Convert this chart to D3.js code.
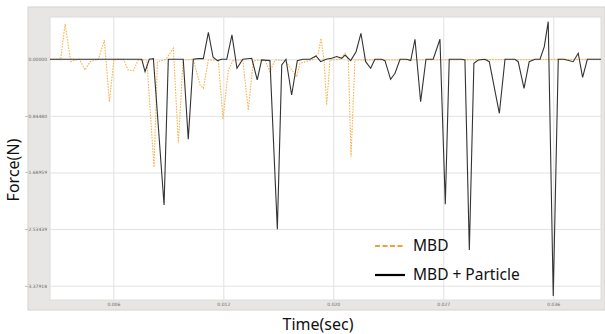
<!DOCTYPE html>
<html>
<head>
<meta charset="utf-8">
<script src="https://cdn.jsdelivr.net/npm/d3@7"></script>
<style>
  body { margin: 0; background: #fff; }
  svg { display: block; }
</style>
</head>
<body>
<svg id="chart" width="605" height="334"></svg>
<script>
// time (sec) and force (N)
const timeMBD = [0.00197, 0.00265, 0.00293, 0.00329, 0.00345, 0.00384, 0.00420, 0.00452, 0.00505, 0.00543,
  0.00575, 0.00604, 0.00664, 0.00695, 0.00727, 0.00759, 0.00813, 0.00859, 0.00881, 0.00935,
  0.00982, 0.01014, 0.01044, 0.01109, 0.01152, 0.01173, 0.01205, 0.01268, 0.01298, 0.01332,
  0.01364, 0.01424, 0.01459, 0.01491, 0.01565, 0.01597, 0.01629, 0.01693, 0.01767, 0.01788,
  0.01873, 0.01905, 0.01922, 0.01941, 0.01958, 0.01979, 0.02043, 0.02075, 0.02096, 0.02113,
  0.02138, 0.03704];
const forceMBD = [0, 0, 0.527, -0.036, -0.02, 0, -0.16, -0.036, 0, 0.288,
  -0.633, 0, 0, -0.16, -0.17, -0.01, -0.01, -1.612, -0.04, 0,
  0.164, -1.254, -0.01, 0, -0.384, -0.433, -0.01, -0.01, -0.891, -0.16,
  -0.01, -0.01, -0.757, -0.02, -0.01, -0.185, -0.01, -0.02, -0.26, -0.06,
  0, 0.09, 0.313, -0.01, -0.682, -0.01, 0, 0.09, -0.01, -1.454,
  -0.01, 0];

const timeParticle = [0.00197, 0.00781, 0.00802, 0.00829, 0.00855, 0.00923, 0.00950, 0.01045, 0.01077, 0.01109,
  0.01141, 0.01173, 0.01205, 0.01235, 0.01263, 0.01290, 0.01322, 0.01355, 0.01387, 0.01424,
  0.01481, 0.01516, 0.01544, 0.01597, 0.01644, 0.01672, 0.01699, 0.01735, 0.01771, 0.01805,
  0.01852, 0.01890, 0.01920, 0.01954, 0.01990, 0.02022, 0.02054, 0.02075, 0.02111, 0.02145,
  0.02176, 0.02206, 0.02238, 0.02265, 0.02308, 0.02329, 0.02365, 0.02393, 0.02425, 0.02467,
  0.02493, 0.02520, 0.02556, 0.02590, 0.02636, 0.02679, 0.02713, 0.02738, 0.02817, 0.02838,
  0.02866, 0.02895, 0.02923, 0.02965, 0.02993, 0.03057, 0.03093, 0.03156, 0.03177, 0.03214,
  0.03247, 0.03284, 0.03316, 0.03343, 0.03368, 0.03400, 0.03432, 0.03468, 0.03527, 0.03559,
  0.03587, 0.03617, 0.03704];
const forceParticle = [0, 0, -0.185, 0, 0.01, -2.175, 0, 0, -1.194, 0,
  0.01, 0.01, 0.403, 0.03, -0.02, 0, 0, 0.363, -0.134, 0,
  0.015, -0.309, -0.01, -0.02, -2.537, -0.085, 0, -0.533, -0.02, 0,
  0, 0.05, -0.036, 0, 0.015, 0.04, 0.015, 0.064, -0.02, 0.113,
  0.388, -0.036, -0.134, 0, 0, -0.02, -0.299, -0.209, 0, 0,
  -0.02, 0.299, -0.633, 0, 0, 0.299, -2.164, 0, 0, -0.01,
  -2.846, -0.06, -0.01, 0, -0.036, -0.806, 0, 0, -0.036, -0.433,
  -0.036, 0, 0, 0.188, 0.561, -3.533, 0, 0, -0.036, 0.09,
  -0.269, 0, 0];

const yTicks = [0, -0.84480, -1.68959, -2.53439, -3.37918];
const xTicks = [0.006, 0.013, 0.020, 0.027, 0.034];
const xTickLabels = ['0.006', '0.012', '0.020', '0.027', '0.036'];
const seriesNames = ['MBD', 'MBD + Particle'];

const svg = d3.select('#chart');
const plot = { left: 50, right: 601, top: 17, bottom: 300 };

// outer grey panel
svg.append('rect')
  .attr('x', 28).attr('y', 7)
  .attr('width', 577).attr('height', 303)
  .attr('fill', '#e8e6e4')
  .attr('stroke', '#d6d2ce')
  .attr('stroke-width', 1);

svg.append('rect')
  .attr('x', plot.left).attr('y', plot.top)
  .attr('width', plot.right - plot.left).attr('height', plot.bottom - plot.top)
  .attr('fill', '#fff')
  .attr('stroke', '#dcdcdc');

const x = d3.scaleLinear()
  .domain([0.00197, 0.03704])
  .range([plot.left, plot.right]);

const y = d3.scaleLinear()
  .domain([-3.593, 0.631])
  .range([plot.bottom, plot.top]);

// grid
const xAxis = d3.axisBottom(x)
  .tickValues(xTicks)
  .tickSize(-(plot.bottom - plot.top))
  .tickFormat((d, i) => xTickLabels[i]);
svg.append('g')
  .attr('transform', `translate(0,${plot.bottom})`)
  .call(xAxis)
  .call(g => g.select('.domain').remove())
  .call(g => g.selectAll('line').attr('stroke', '#e2e2e2'))
  .call(g => g.selectAll('text')
    .attr('dy', 0).attr('y', 6)
    .attr('font-size', 4.5).attr('fill', '#666')
    .attr('font-family', 'DejaVu Sans'));

const yAxis = d3.axisLeft(y)
  .tickValues(yTicks)
  .tickSize(-(plot.right - plot.left))
  .tickFormat(d3.format('.5f'));
svg.append('g')
  .attr('transform', `translate(${plot.left},0)`)
  .call(yAxis)
  .call(g => g.select('.domain').remove())
  .call(g => g.selectAll('line').attr('stroke', '#e2e2e2'))
  .call(g => g.selectAll('text')
    .attr('x', -3)
    .attr('font-size', 4.5).attr('fill', '#666')
    .attr('font-family', 'DejaVu Sans'));

const line = d3.line()
  .x(d => x(d[0]))
  .y(d => y(d[1]));

svg.append('path')
  .datum(d3.zip(timeMBD, forceMBD))
  .attr('d', line)
  .attr('fill', 'none')
  .attr('stroke', '#f6b450')
  .attr('stroke-width', 1.1)
  .attr('stroke-dasharray', '1.6,1.2');

svg.append('path')
  .datum(d3.zip(timeParticle, forceParticle))
  .attr('d', line)
  .attr('fill', 'none')
  .attr('stroke', '#333')
  .attr('stroke-width', 1.1)
  .attr('stroke-linejoin', 'miter');

// legend
const legend = svg.append('g').attr('font-family', 'Noto Sans').attr('font-size', 15.5);
legend.append('line')
  .attr('x1', 375).attr('x2', 405).attr('y1', 246).attr('y2', 246)
  .attr('stroke', '#f0a040').attr('stroke-width', 2).attr('stroke-dasharray', '5,2.5');
legend.append('text').attr('x', 413).attr('y', 251).attr('fill', '#111').text(seriesNames[0]);
legend.append('line')
  .attr('x1', 375).attr('x2', 405).attr('y1', 275).attr('y2', 275)
  .attr('stroke', '#000').attr('stroke-width', 2.2);
legend.append('text').attr('x', 413).attr('y', 280).attr('fill', '#111').text(seriesNames[1]);

// axis titles
svg.append('text')
  .attr('transform', 'translate(19,170) rotate(-90)')
  .attr('text-anchor', 'middle')
  .attr('font-family', 'Noto Sans').attr('font-size', 16).attr('fill', '#111')
  .text('Force(N)');
svg.append('text')
  .attr('x', 318).attr('y', 330)
  .attr('text-anchor', 'middle')
  .attr('font-family', 'Noto Sans').attr('font-size', 16).attr('fill', '#111')
  .text('Time(sec)');
</script>
</body>
</html>
